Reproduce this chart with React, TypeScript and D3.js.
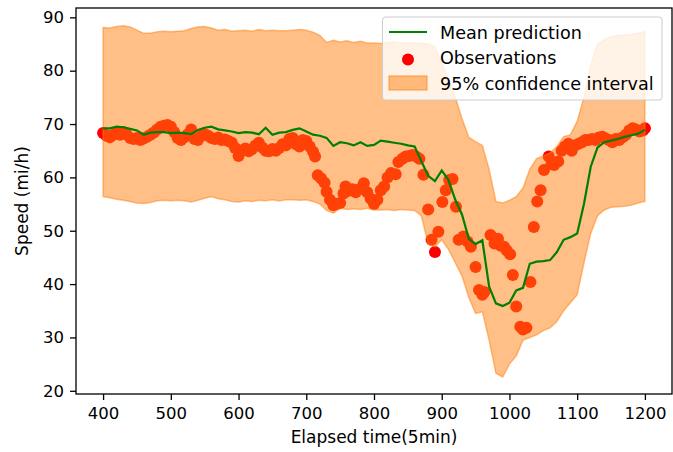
import React, { useRef, useEffect } from 'react';
import * as d3 from 'd3';

// time grid for the prediction (5 min steps, sampled every 10)
const gridTime = [
    400, 410, 420, 430, 440, 450, 460, 470, 480, 490,
    500, 510, 520, 530, 540, 550, 560, 570, 580, 590,
    600, 610, 620, 630, 640, 650, 660, 670, 680, 690,
    700, 710, 720, 730, 740, 750, 760, 770, 780, 790,
    800, 810, 820, 830, 840, 850, 860, 870, 880, 890,
    900, 910, 920, 930, 940, 950, 960, 970, 980, 990,
    1000, 1010, 1020, 1030, 1040, 1050, 1060, 1070, 1080, 1090,
    1100, 1110, 1120, 1130, 1140, 1150, 1160, 1170, 1180, 1190,
    1200,
];

const meanSpeed = [
    69.2, 69.2, 69.5, 69.4, 69.1, 68.8, 68.0, 68.4, 68.5, 68.5,
    68.3, 68.4, 68.3, 68.1, 68.9, 69.3, 69.5, 69.0, 68.8, 68.6,
    68.3, 68.5, 68.4, 68.1, 69.3, 68.0, 68.4, 68.5, 68.9, 69.2,
    68.6, 68.0, 67.8, 67.4, 65.9, 66.6, 66.4, 66.0, 66.6, 65.9,
    66.1, 66.9, 66.7, 66.5, 66.3, 66.0, 65.8, 63.0, 60.3, 59.3,
    61.3, 59.5, 55.8, 53.0, 48.5, 47.5, 48.2, 39.5, 36.4, 35.9,
    36.5, 38.8, 39.3, 43.8, 44.2, 44.3, 44.5, 46.0, 48.3, 48.8,
    49.5, 55.0, 62.0, 65.6, 66.6, 66.9, 67.2, 67.6, 67.9, 68.2,
    68.9,
];

const upperSpeed = [
    88.1, 88.0, 88.3, 88.4, 88.2, 87.6, 87.0, 87.0, 87.3, 87.4,
    87.3, 87.4, 87.5, 87.9, 88.2, 88.3, 88.0, 87.6, 87.7, 87.4,
    87.5, 87.6, 87.4, 87.7, 87.5, 87.6, 87.5, 87.5, 87.6, 87.7,
    87.6, 87.2, 86.6, 85.3, 85.7, 85.4, 85.6, 85.3, 85.5, 85.2,
    85.2, 85.1, 85.3, 85.4, 85.2, 85.3, 85.2, 85.1, 85.0, 84.5,
    81.5, 78.5, 75.0, 71.0, 67.5, 66.7, 66.0, 61.5, 55.5, 55.2,
    55.7, 56.4, 58.0, 61.5, 63.5, 64.0, 64.6, 65.8, 67.6, 68.0,
    70.5, 75.0, 81.0, 85.0, 85.8, 86.4, 86.6, 86.7, 86.8, 87.0,
    87.3,
];

const lowerSpeed = [
    56.4, 56.2, 55.9, 55.7, 55.5, 55.2, 55.1, 55.3, 55.6, 55.7,
    55.6, 55.7, 55.6, 55.4, 55.7, 56.1, 56.4, 56.0, 55.8, 55.5,
    55.4, 55.6, 55.5, 55.7, 55.6, 55.8, 55.6, 55.8, 55.8, 55.7,
    55.8, 55.5, 55.0, 53.8, 53.3, 54.2, 54.0, 54.1, 54.0, 54.2,
    53.9, 53.9, 54.0, 53.8, 54.0, 53.9, 53.8, 52.8, 47.5, 47.0,
    48.3, 46.5, 44.0, 41.5, 37.5, 34.5, 34.8, 29.5, 23.3, 22.6,
    25.0, 26.5, 29.5, 30.0, 30.5, 31.3, 31.8, 33.0, 35.0, 36.5,
    38.0, 44.0, 49.5, 52.8, 53.9, 54.4, 54.5, 54.6, 54.8, 55.2,
    55.5,
];

const obsTime = [
    400, 405, 410, 415, 420, 425, 430, 435, 440, 445,
    450, 455, 460, 465, 470, 475, 480, 485, 490, 495,
    500, 505, 510, 515, 520, 525, 530, 535, 540, 545,
    550, 555, 560, 565, 570, 575, 580, 585, 590, 595,
    600, 605, 610, 615, 620, 625, 630, 635, 640, 645,
    650, 655, 660, 665, 670, 675, 680, 685, 690, 695,
    700, 705, 710, 713, 717, 722, 727, 730, 735, 740,
    745, 750, 755, 758, 763, 768, 773, 778, 785, 790,
    795, 800, 805, 810, 815, 820, 825, 832, 836, 842,
    847, 852, 857, 862, 867, 873, 880, 885, 890, 895,
    901, 906, 911, 916, 921, 925, 932, 938, 943, 950,
    955, 960, 963, 972, 978, 983, 987, 992, 996, 1001,
    1005, 1010, 1016, 1020, 1025, 1031, 1036, 1041, 1046, 1051,
    1058, 1062, 1066, 1072, 1077, 1082, 1087, 1092, 1097, 1102,
    1107, 1112, 1117, 1122, 1127, 1132, 1137, 1142, 1147, 1152,
    1157, 1162, 1167, 1172, 1177, 1182, 1187, 1192, 1197, 1200,
];

const obsSpeed = [
    68.3, 67.8, 67.5, 68.0, 68.3, 68.0, 68.5, 68.0, 67.4, 67.2,
    67.4, 67.0, 67.3, 67.6, 68.0, 68.4, 69.0, 69.5, 69.7, 69.8,
    69.5, 68.5, 67.4, 67.0, 67.5, 68.1, 69.0, 67.2, 67.0, 67.8,
    68.1, 67.8, 67.4, 67.2, 67.5, 67.0, 67.1, 66.8, 66.5, 65.5,
    64.0, 65.0, 65.4, 64.9, 65.3, 66.0, 66.5, 65.6, 65.0, 64.9,
    65.3, 65.0, 65.5, 66.2, 66.0, 67.2, 67.4, 66.2, 65.8, 67.0,
    66.8, 65.8, 64.8, 63.9, 60.4, 59.8, 59.0, 57.3, 55.8, 54.8,
    55.0, 55.2, 57.0, 58.3, 57.5, 57.8, 57.2, 57.8, 58.9, 57.2,
    56.0, 55.0, 55.8, 57.6, 58.3, 60.0, 60.8, 60.6, 62.9, 63.5,
    63.9, 64.0, 64.2, 63.9, 63.5, 60.5, 54.0, 48.3, 46.0, 49.8,
    55.4, 57.6, 59.5, 59.7, 54.5, 48.3, 48.9, 48.0, 47.0, 43.2,
    38.9, 38.0, 38.5, 49.2, 47.6, 48.5, 47.2, 47.0, 46.3, 45.6,
    41.7, 35.8, 32.0, 31.5, 31.8, 40.4, 50.7, 55.5, 57.6, 61.4,
    63.9, 62.5, 62.3, 63.0, 65.0, 65.8, 66.3, 65.0, 66.0, 66.3,
    66.6, 67.0, 67.0, 67.2, 67.0, 67.5, 67.6, 67.3, 67.0, 66.6,
    67.2, 67.0, 67.5, 68.0, 68.8, 69.2, 69.0, 68.6, 68.8, 69.2,
];

const xTicks = [400, 500, 600, 700, 800, 900, 1000, 1100, 1200];
const yTicks = [20, 30, 40, 50, 60, 70, 80, 90];

const legendLabels = ['Mean prediction', 'Observations', '95% confidence interval'];

const App = () => {
    const ref = useRef<SVGSVGElement>(null);

    useEffect(() => {
        const svg = d3.select(ref.current);
        svg.selectAll('*').remove();

        const width = 673, height = 452;
        const plot = { left: 76, right: 672, top: 8, bottom: 394 };
        const font = "'DejaVu Sans', sans-serif";
        const band = 'rgba(255,127,14,0.5)';

        svg.attr('width', width).attr('height', height);

        const x = d3.scaleLinear().domain([360, 1240]).range([plot.left, plot.right]);
        const y = d3.scaleLinear().domain([19.4, 91.75]).range([plot.bottom, plot.top]);

        // dots go under the band, so the band tints them orange-red
        svg.append('g')
            .selectAll('circle')
            .data(obsTime)
            .join('circle')
            .attr('cx', d => x(d))
            .attr('cy', (d, i) => y(obsSpeed[i]))
            .attr('r', 6)
            .attr('fill', '#ff0000');

        const area = d3.area<number>()
            .x(d => x(d))
            .y0((d, i) => y(lowerSpeed[i]))
            .y1((d, i) => y(upperSpeed[i]));

        svg.append('path')
            .datum(gridTime)
            .attr('d', area)
            .attr('fill', band)
            .attr('stroke', band)
            .attr('stroke-width', 1.5);

        const line = d3.line<number>()
            .x(d => x(d))
            .y((d, i) => y(meanSpeed[i]));

        svg.append('path')
            .datum(gridTime)
            .attr('d', line)
            .attr('fill', 'none')
            .attr('stroke', '#008000')
            .attr('stroke-width', 2.2);

        // axes
        const xAxis = d3.axisBottom(x)
            .tickValues(xTicks)
            .tickFormat(d3.format('d'))
            .tickSize(6).tickPadding(7).tickSizeOuter(0);
        const gx = svg.append('g')
            .attr('transform', `translate(0, ${plot.bottom})`)
            .call(xAxis);

        const yAxis = d3.axisLeft(y)
            .tickValues(yTicks)
            .tickFormat(d3.format('d'))
            .tickSize(6).tickPadding(6).tickSizeOuter(0);
        const gy = svg.append('g')
            .attr('transform', `translate(${plot.left}, 0)`)
            .call(yAxis);

        [gx, gy].forEach(g => {
            g.select('.domain').remove();
            g.attr('font-family', font).attr('font-size', 16.5);
            g.selectAll('line').attr('stroke', '#000').attr('stroke-width', 1.3);
            g.selectAll('text').attr('fill', '#000');
        });

        svg.append('rect')
            .attr('x', plot.left)
            .attr('y', plot.top)
            .attr('width', plot.right - plot.left)
            .attr('height', plot.bottom - plot.top)
            .attr('fill', 'none')
            .attr('stroke', '#000')
            .attr('stroke-width', 1.3);

        svg.append('text')
            .attr('x', (plot.left + plot.right) / 2)
            .attr('y', 443)
            .attr('text-anchor', 'middle')
            .attr('font-family', font)
            .attr('font-size', 17)
            .text('Elapsed time(5min)');

        svg.append('text')
            .attr('transform', `translate(28, ${(plot.top + plot.bottom) / 2}) rotate(-90)`)
            .attr('text-anchor', 'middle')
            .attr('font-family', font)
            .attr('font-size', 17)
            .text('Speed (mi/h)');

        // legend
        const lg = svg.append('g');
        lg.append('rect')
            .attr('x', 382.5)
            .attr('y', 17)
            .attr('width', 279.5)
            .attr('height', 83)
            .attr('rx', 3)
            .attr('fill', '#fff')
            .attr('fill-opacity', 0.8)
            .attr('stroke', '#cccccc')
            .attr('stroke-width', 1);

        lg.append('line')
            .attr('x1', 389).attr('x2', 427)
            .attr('y1', 32).attr('y2', 32)
            .attr('stroke', '#008000')
            .attr('stroke-width', 2.2);

        lg.append('circle')
            .attr('cx', 408).attr('cy', 59.5)
            .attr('r', 6)
            .attr('fill', '#ff0000');

        lg.append('rect')
            .attr('x', 389).attr('y', 76)
            .attr('width', 38).attr('height', 14)
            .attr('fill', band)
            .attr('stroke', band)
            .attr('stroke-width', 1.5);

        lg.selectAll('text.lbl')
            .data(legendLabels)
            .join('text')
            .attr('class', 'lbl')
            .attr('x', 440)
            .attr('y', (d, i) => 38.5 + i * 25.8)
            .attr('font-family', font)
            .attr('font-size', 17.6)
            .text(d => d);
    }, []);

    return (
        <div style={{ position: 'absolute', left: 0, top: 0 }}>
            <svg ref={ref} style={{ display: 'block' }} />
        </div>
    );
};

export default App;
